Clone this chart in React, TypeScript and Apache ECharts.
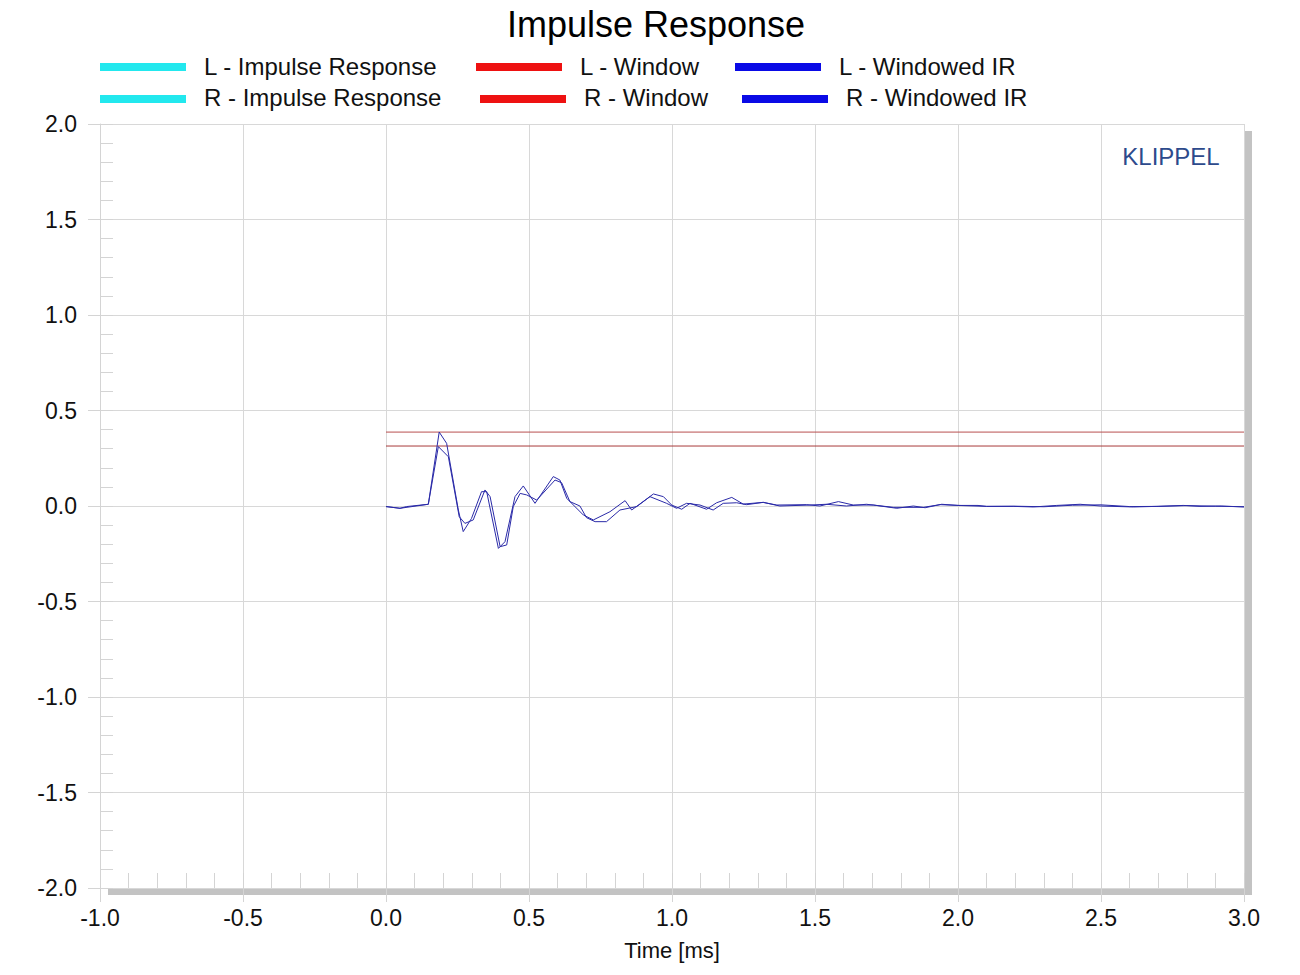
import React, { useEffect, useRef } from "react";
import * as echarts from "echarts";

const TITLE = "Impulse Response";
const X_NAME = "Time [ms]";
const X_MIN = -1;
const X_MAX = 3;
const Y_MIN = -2;
const Y_MAX = 2;

const LEGEND_ROWS = [
  ["L - Impulse Response", "L - Window", "L - Windowed IR"],
  ["R - Impulse Response", "R - Window", "R - Windowed IR"],
];

// L - Windowed IR
const L_TIME = [
  0.0, 0.049, 0.072, 0.148, 0.186, 0.212, 0.253, 0.27, 0.299, 0.334, 0.352, 0.393, 0.416, 0.451, 0.48,
  0.521, 0.585, 0.608, 0.632, 0.69, 0.725, 0.783, 0.836, 0.859, 0.935, 0.97, 0.999, 1.034, 1.063, 1.121,
  1.156, 1.209, 1.249, 1.319, 1.366, 1.47, 1.517, 1.582, 1.634, 1.704, 1.786, 1.844, 1.885, 1.943, 2.0,
  2.07, 2.1, 2.193, 2.263, 2.345, 2.427, 2.497, 2.613, 2.695, 2.788, 2.846, 2.92, 3.0,
];
const L_VALUE = [
  -0.003, -0.012, -0.003, 0.009, 0.387, 0.328, -0.021, -0.134, -0.065, 0.075, 0.075, -0.222, -0.187, 0.049,
  0.105, 0.014, 0.154, 0.136, 0.04, -0.047, -0.073, -0.03, 0.028, -0.021, 0.063, 0.049, 0.005, -0.017, 0.014,
  -0.017, 0.017, 0.045, 0.01, 0.019, 0.005, 0.007, 0.0, 0.023, 0.005, 0.005, -0.012, 0.0, -0.009, 0.009, 0.003,
  0.003, -0.002, -0.002, -0.005, 0.003, 0.009, 0.0, -0.005, -0.002, 0.003, -0.002, 0.0, -0.005,
];

// R - Windowed IR
const R_TIME = [
  0.0, 0.049, 0.148, 0.183, 0.218, 0.256, 0.276, 0.305, 0.346, 0.364, 0.399, 0.422, 0.445, 0.469, 0.492,
  0.527, 0.591, 0.614, 0.643, 0.678, 0.701, 0.731, 0.771, 0.818, 0.877, 0.923, 0.981, 1.016, 1.051, 1.098,
  1.144, 1.179, 1.226, 1.261, 1.319, 1.377, 1.482, 1.54, 1.61, 1.68, 1.774, 1.879, 1.937, 2.02, 2.1, 2.2,
  2.3, 2.4, 2.5, 2.6, 2.7, 2.8, 2.9, 3.0,
];
const R_VALUE = [
  -0.003, -0.012, 0.009, 0.311, 0.258, -0.056, -0.091, -0.073, 0.084, 0.049, -0.213, -0.204, -0.003, 0.066,
  0.058, 0.031, 0.136, 0.122, 0.023, 0.0, -0.061, -0.082, -0.082, -0.021, -0.003, 0.049, 0.014, -0.012, 0.014,
  0.005, -0.021, 0.014, 0.017, 0.007, 0.019, 0.0, 0.005, 0.009, 0.0, 0.009, -0.007, -0.007, 0.007, 0.002,
  -0.002, -0.001, -0.004, 0.004, 0.006, -0.003, -0.002, 0.002, -0.001, -0.004,
];

// Window levels
const WINDOW_TIME = [0, 3];
const L_WINDOW = 0.387;
const R_WINDOW = 0.314;

const FONT = "'Liberation Sans', Arial, sans-serif";

export default function App() {
  const ref = useRef<HTMLDivElement>(null);

  useEffect(() => {
    if (!ref.current) return;
    const chart = echarts.init(ref.current, undefined, { renderer: "svg" });

    const lData = L_TIME.map((t, i) => [t, L_VALUE[i]]);
    const rData = R_TIME.map((t, i) => [t, R_VALUE[i]]);
    const lWin = WINDOW_TIME.map((t) => [t, L_WINDOW]);
    const rWin = WINDOW_TIME.map((t) => [t, R_WINDOW]);

    const swatchColors = ["#22e8ee", "#ee1111", "#0a0ae6"];
    const swatchX = [
      [100, 476, 735],
      [100, 480, 742],
    ];
    const rowY = [67, 99];
    const textY = [66, 97];

    const legendGraphics: any[] = [];
    LEGEND_ROWS.forEach((row, r) => {
      row.forEach((label, c) => {
        legendGraphics.push({
          type: "rect",
          shape: { x: swatchX[r][c], y: rowY[r] - 4, width: 86, height: 8 },
          style: { fill: swatchColors[c] },
          silent: true,
        });
        legendGraphics.push({
          type: "text",
          x: swatchX[r][c] + 104,
          y: textY[r],
          style: {
            text: label,
            font: `24px ${FONT}`,
            fill: "#111",
            textAlign: "left",
            textVerticalAlign: "middle",
          },
          silent: true,
        });
      });
    });

    const option: any = {
      animation: false,
      backgroundColor: "#ffffff",
      grid: { left: 100, right: 56, top: 124, bottom: 87, containLabel: false },
      xAxis: [
        {
          type: "value",
          min: X_MIN,
          max: X_MAX,
          interval: 0.5,
          name: X_NAME,
          nameLocation: "middle",
          nameGap: 51,
          nameTextStyle: { fontSize: 22, color: "#111", fontFamily: FONT },
          axisLine: { show: false, onZero: false },
          axisTick: { show: true, inside: false, length: 14, lineStyle: { color: "#d4d4d4" } },
          axisLabel: {
            margin: 18,
            fontSize: 23,
            color: "#111",
            fontFamily: FONT,
            formatter: (v: number) => v.toFixed(1),
          },
          splitLine: { show: true, lineStyle: { color: "#d8d8d8", width: 1 } },
        },
        {
          type: "value",
          position: "bottom",
          min: X_MIN,
          max: X_MAX,
          interval: 0.1,
          axisLine: { show: false, onZero: false },
          axisTick: { show: true, inside: true, length: 15, lineStyle: { color: "#d4d4d4" } },
          axisLabel: { show: false },
          splitLine: { show: false },
        },
      ],
      yAxis: [
        {
          type: "value",
          min: Y_MIN,
          max: Y_MAX,
          interval: 0.5,
          axisLine: { show: true, onZero: false, lineStyle: { color: "#d4d4d4" } },
          axisTick: { show: true, inside: false, length: 12, lineStyle: { color: "#d4d4d4" } },
          axisLabel: {
            margin: 23,
            fontSize: 23,
            color: "#111",
            fontFamily: FONT,
            formatter: (v: number) => v.toFixed(1),
          },
          splitLine: { show: true, lineStyle: { color: "#d8d8d8", width: 1 } },
        },
        {
          type: "value",
          position: "left",
          min: Y_MIN,
          max: Y_MAX,
          interval: 0.1,
          axisLine: { show: false, onZero: false },
          axisTick: { show: true, inside: true, length: 13, lineStyle: { color: "#d4d4d4" } },
          axisLabel: { show: false },
          splitLine: { show: false },
        },
      ],
      series: [
        {
          name: "L - Window",
          type: "line",
          data: lWin,
          showSymbol: false,
          lineStyle: { color: "#b85050", width: 1 },
          z: 3,
        },
        {
          name: "R - Window",
          type: "line",
          data: rWin,
          showSymbol: false,
          lineStyle: { color: "#a83a3a", width: 1 },
          z: 3,
        },
        {
          name: "L - Windowed IR",
          type: "line",
          data: lData,
          showSymbol: false,
          lineStyle: { color: "#2a2aa8", width: 1 },
          z: 4,
        },
        {
          name: "R - Windowed IR",
          type: "line",
          data: rData,
          showSymbol: false,
          lineStyle: { color: "#2a2aa8", width: 1 },
          z: 4,
        },
      ],
      graphic: [
        {
          type: "text",
          x: 656,
          y: 24,
          style: {
            text: TITLE,
            font: `36px ${FONT}`,
            fill: "#000",
            textAlign: "center",
            textVerticalAlign: "middle",
          },
          silent: true,
        },
        ...legendGraphics,
        {
          type: "text",
          x: 1171,
          y: 156,
          style: {
            text: "KLIPPEL",
            font: `24px ${FONT}`,
            fill: "#2d4a8c",
            textAlign: "center",
            textVerticalAlign: "middle",
          },
          silent: true,
        },
        {
          type: "rect",
          shape: { x: 1245, y: 131, width: 7, height: 764 },
          style: { fill: "#c3c3c3" },
          silent: true,
        },
        {
          type: "rect",
          shape: { x: 108, y: 888, width: 1144, height: 7 },
          style: { fill: "#c3c3c3" },
          silent: true,
        },
      ],
    };

    chart.setOption(option);
    return () => chart.dispose();
  }, []);

  return (
    <div
      ref={ref}
      style={{ position: "fixed", left: 0, top: 0, width: 1300, height: 975, background: "#fff" }}
    />
  );
}
